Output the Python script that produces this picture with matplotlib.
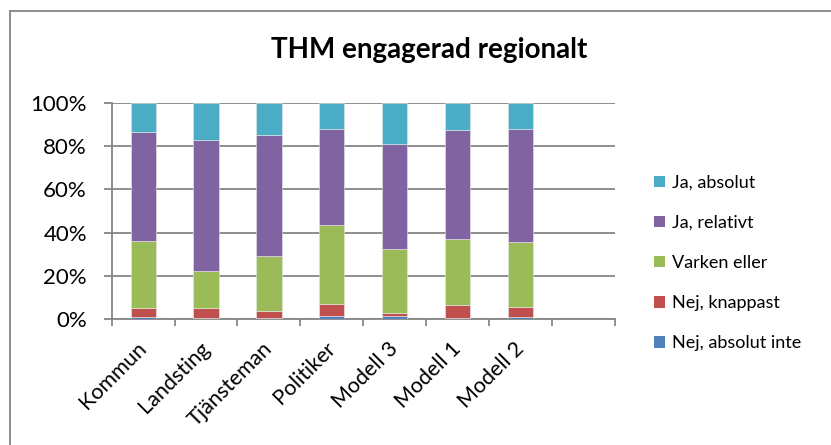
import matplotlib
matplotlib.use("Agg")
import matplotlib.pyplot as plt
import numpy as np
from matplotlib.lines import Line2D
from matplotlib.patches import Patch

plt.rcParams["font.family"] = ["Lato", "DejaVu Sans"]

categories = ["Kommun", "Landsting", "Tjänsteman", "Politiker",
              "Modell 3", "Modell 1", "Modell 2"]
series_names = ["Nej, absolut inte", "Nej, knappast", "Varken eller",
                "Ja, relativt", "Ja, absolut"]
nej_absolut = [1.0, 0.3, 0.3, 1.6, 1.4, 0.5, 1.1]
nej_knappast = [4.3, 4.8, 3.6, 5.3, 1.4, 5.8, 4.5]
varken_eller = [31.0, 17.0, 25.1, 36.5, 29.8, 30.6, 30.0]
ja_relativt = [50.3, 60.9, 55.9, 44.6, 48.4, 50.6, 52.4]
ja_absolut = [13.4, 17.0, 15.1, 12.0, 19.0, 12.5, 12.0]
colors = ["#4F81BD", "#C0504D", "#9BBB59", "#8064A2", "#4BACC6"]
n_slots = 8  # Excel left an empty slot after the last category

values = np.array([nej_absolut, nej_knappast, varken_eller,
                   ja_relativt, ja_absolut])
values = values / values.sum(axis=0) * 100

fig = plt.figure(figsize=(8.31, 4.45), dpi=100)
ax = fig.add_axes([0.1344, 0.283, 0.6056, 0.486])

x = np.arange(len(categories))
bottom = np.zeros(len(categories))
for name, vals, col in zip(series_names, values, colors):
    ax.bar(x, vals, bottom=bottom, width=0.4, color=col, label=name,
           edgecolor="#e8e8e8", linewidth=0.4, zorder=3)
    bottom += vals

ax.set_xlim(-0.5, n_slots - 0.5)
ax.set_ylim(0, 100)
ax.set_yticks(np.arange(0, 101, 20))
ax.set_yticklabels([f"{v}%" for v in range(0, 101, 20)], fontsize=16)
ax.set_xticks(x)
ax.set_xticklabels(categories, rotation=45, ha="right", va="center",
                   rotation_mode="anchor", fontsize=15.5)
ax.set_xticks(np.arange(-0.5, n_slots, 1), minor=True)
ax.tick_params(axis="x", which="major", length=0, pad=19)
ax.tick_params(axis="x", which="minor", length=5, width=1.3,
               color="#868686", direction="out")
ax.tick_params(axis="y", length=5.8, width=1.3, color="#868686", pad=12)
ax.grid(axis="y", color="#868686", linewidth=1.3, zorder=0)
for s in ("top", "right"):
    ax.spines[s].set_visible(False)
for s in ("left", "bottom"):
    ax.spines[s].set_color("#868686")
    ax.spines[s].set_linewidth(1.3)

fig.text(0.516, 0.888, "THM engagerad regionalt", ha="center",
         va="center", fontsize=20, fontweight="bold")

handles = [Patch(facecolor=c, edgecolor="none") for c in colors][::-1]
ax.legend(handles, series_names[::-1], loc="center left",
          bbox_to_anchor=(0.776, 0.409), bbox_transform=fig.transFigure,
          frameon=False, fontsize=13, handlelength=0.62, handleheight=0.62,
          handletextpad=0.4, labelspacing=1.33, borderpad=0)

# chart area border (left and top visible)
fig.add_artist(Line2D([0.012, 0.012], [0.0, 0.975], color="#868686",
                      linewidth=1.3, transform=fig.transFigure))
fig.add_artist(Line2D([0.012, 1.0], [0.975, 0.975], color="#868686",
                      linewidth=1.3, transform=fig.transFigure))

fig.savefig("out.png", dpi=100, facecolor="white")
